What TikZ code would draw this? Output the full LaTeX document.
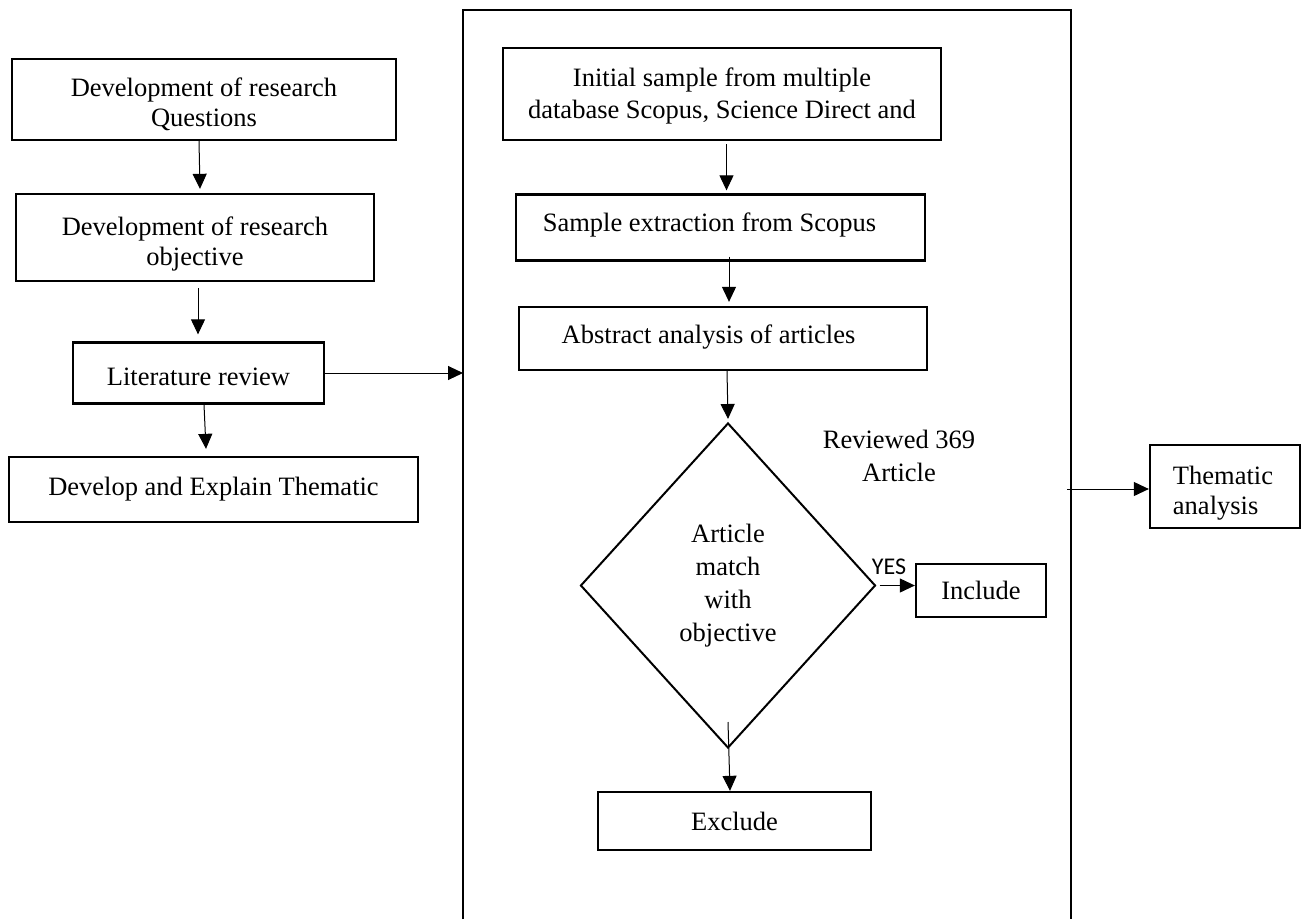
\documentclass[tikz,border=0pt]{standalone}
\usepackage{fontspec}
\setmainfont{Liberation Serif}
\newfontfamily\yesfont{Carlito}
\usetikzlibrary{arrows.meta,shapes.geometric,calc}
\begin{document}
\begin{tikzpicture}[x=1pt,y=-1pt,
  box/.style={draw,line width=2.3pt,inner sep=0pt},
  txt/.style={inner sep=0pt,align=center,font=\fontsize{26.5}{30}\selectfont},
  arr/.style={line width=1pt,-{Triangle[length=15pt,width=14pt]}},
  lbl/.style={inner sep=0pt,align=center,font=\fontsize{26.5}{33}\selectfont},
  frame/.style={line width=2.6pt,line join=miter}]
\useasboundingbox[fill=white] (0,0) rectangle (1301,919);
% frame
\coordinate (fBL) at (463,919);
\coordinate (fTL) at (463,10);
\coordinate (fTR) at (1071,10);
\coordinate (fBR) at (1071,919);
\draw[frame] (fBL) -- (fTL) -- (fTR) -- (fBR);
% left column
\node[box,minimum width=384pt,minimum height=81pt,
  label={[txt,yshift=-5pt]center:{Development of research\\Questions}}] (q) at (204,99.5) {};
\node[box,minimum width=358pt,minimum height=87pt,
  label={[txt,yshift=-6pt]center:{Development of research\\objective}}] (obj) at (195,237.5) {};
\node[box,minimum width=251pt,minimum height=61pt,
  label={[txt,yshift=-4pt]center:{Literature review}}] (lit) at (198.5,373) {};
\node[box,minimum width=409pt,minimum height=65pt,
  label={[txt]center:{Develop and Explain Thematic}}] (dev) at (213.5,489.5) {};
% middle column
\node[box,minimum width=438pt,minimum height=92pt,
  label={[txt,yshift=-2pt,font=\fontsize{26.5}{31.3}\selectfont]center:{Initial sample from multiple\\database Scopus, Science Direct and}}] (init) at (722,94) {};
\node[box,minimum width=409pt,minimum height=66pt,
  label={[txt,xshift=-11pt,yshift=2.5pt]center:{Sample extraction from Scopus}}] (samp) at (720.5,227.5) {};
\node[box,minimum width=408pt,minimum height=63pt,
  label={[txt,xshift=-14.5pt,yshift=1pt]center:{Abstract analysis of articles}}] (abs) at (723,338.5) {};
\node[draw,diamond,line width=2pt,minimum width=295pt,minimum height=325pt,inner sep=0pt,align=center,font=\fontsize{26.5}{33}\selectfont] (dia) at (728,585.5) {Article\\match\\with\\objective};
\node[box,minimum width=130pt,minimum height=53pt,
  label={[txt]center:{Include}}] (inc) at (981,590.5) {};
\node[box,minimum width=273pt,minimum height=58pt,
  label={[txt]center:{Exclude}}] (exc) at (734.5,821) {};
\node[lbl] (rev) at (899,456) {Reviewed 369\\Article};
\node[inner sep=0pt,font=\yesfont\fontsize{24}{28}\selectfont] (yes) at (889,567) {YES};
% right
\node[box,minimum width=150pt,minimum height=83pt,
  label={[txt,align=left,xshift=-2pt,yshift=-7pt]center:{Thematic\\analysis}}] (thm) at (1225,486.5) {};
% arrows
\draw[arr] ([xshift=-5pt]q.south) -- ([xshift=5pt,yshift=4pt]obj.north);
\draw[arr] ([xshift=3pt,yshift=-6pt]obj.south) -- ([xshift=-0.5pt,yshift=7pt]lit.north);
\draw[arr] ([xshift=5.5pt]lit.south) -- ([xshift=-7.5pt,yshift=7pt]dev.north);
\draw[arr] (lit.east) -- (lit.east -| fTL);
\draw[arr] ([xshift=4.5pt,yshift=-3pt]init.south) -- ([xshift=6pt,yshift=3pt]samp.north);
\draw[arr] ([xshift=8.5pt,yshift=5pt]samp.south) -- ([xshift=6pt,yshift=4pt]abs.north);
\draw[arr] ([xshift=4pt]abs.south) -- ([yshift=3pt]dia.north);
\draw[arr] ([xshift=3pt]dia.east) -- (dia.east -| inc.west);
\draw[arr] ([yshift=27pt]dia.south) -- ([xshift=-4.5pt]exc.north);
\draw[arr] ([xshift=-4pt,yshift=-2.5pt]fTR |- thm.west) -- ([yshift=-2.5pt]thm.west);
\end{tikzpicture}
\end{document}
